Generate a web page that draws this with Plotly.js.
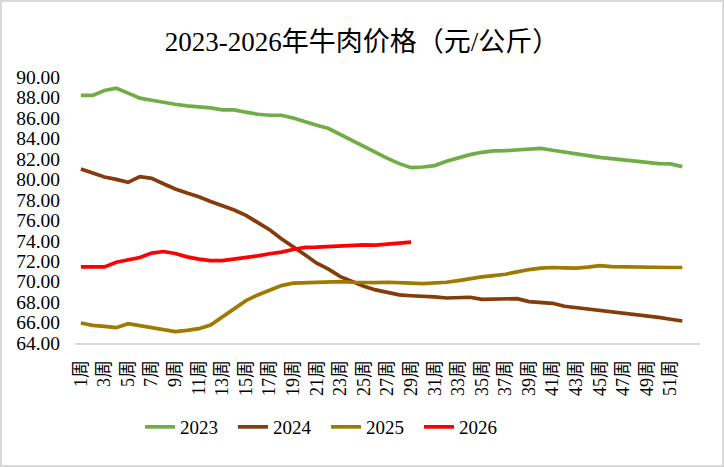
<!DOCTYPE html>
<html>
<head>
<meta charset="utf-8">
<script src="https://cdn.plot.ly/plotly-3.0.1.min.js"></script>
<style>
  body { margin: 0; background: #fff; }
  #wrap { position: relative; width: 724px; height: 467px; }
  #chart { width: 724px; height: 467px; }
  #frame { position: absolute; left: 0; top: 0; width: 724px; height: 467px; box-sizing: border-box;
           border: 2px solid #d9d9d9; pointer-events: none; }
</style>
</head>
<body>
<div id="wrap"><div id="chart"></div><div id="frame"></div></div>
<script>
// weekly beef price, yuan/kg
const weeks = Array.from({ length: 52 }, (_, i) => i + 1);
const tickWeeks = [1,3,5,7,9,11,13,15,17,19,21,23,25,27,29,31,33,35,37,39,41,43,45,47,49,51];

const y2023 = [88.2, 88.2, 88.68, 88.9, 88.42, 87.93, 87.73, 87.5, 87.34, 87.18,
  87.08, 86.98, 86.79, 86.79, 86.56, 86.36, 86.26, 86.26, 86.0, 85.61,
  85.28, 84.96, 84.37, 83.75, 83.23, 82.58, 82.05, 81.53, 81.14, 81.2,
  81.34, 81.76, 82.12, 82.41, 82.64, 82.77, 82.8, 82.87, 82.97, 83.03,
  82.84, 82.64, 82.48, 82.32, 82.15, 82.02, 81.89, 81.76, 81.6, 81.53,
  81.5, 81.24];
const y2024 = [81.01, 80.58, 80.23, 79.99, 79.7, 80.26, 80.09, 79.57, 79.05, 78.66,
  78.3, 77.84, 77.42, 77.0, 76.47, 75.75, 75.07, 74.19, 73.43, 72.62,
  71.8, 71.22, 70.49, 70.0, 69.55, 69.19, 68.9, 68.7, 68.62, 68.6,
  68.5, 68.4, 68.43, 68.47, 68.27, 68.3, 68.34, 68.34, 68.05, 67.98,
  67.88, 67.59, 67.46, 67.3, 67.16, 67.0, 66.94, 66.81, 66.64, 66.51,
  66.32, 66.15];
const y2025 = [65.96, 65.73, 65.63, 65.5, 65.89, 65.7, 65.54, 65.27, 65.11, 65.24,
  65.4, 65.76, 66.58, 67.4, 68.14, 68.7, 69.19, 69.61, 69.85, 69.91,
  69.97, 69.97, 70.0, 69.94, 69.91, 69.91, 69.94, 69.94, 69.85, 69.81,
  69.85, 69.94, 70.1, 70.3, 70.46, 70.59, 70.72, 70.95, 71.18, 71.31,
  71.38, 71.35, 71.31, 71.41, 71.57, 71.47, 71.44, 71.38, 71.38, 71.38,
  71.38, 71.38];
const y2026 = [71.44, 71.44, 71.44, 71.9, 72.13, 72.36, 72.79, 72.94, 72.75, 72.42,
  72.2, 72.06, 72.06, 72.2, 72.39, 72.52, 72.72, 72.88, 73.14, 73.34,
  73.37, 73.43, 73.5, 73.53, 73.6, 73.56, 73.63, 73.76, 73.86];

const seriesNames = ['2023', '2024', '2025', '2026'];
const seriesData = [y2023, y2024, y2025, y2026];
const seriesColors = ['#70AD47', '#843C0C', '#9E7A00', '#FF0000'];

const FONT = "'Liberation Serif', 'Times New Roman', 'Noto Sans CJK SC', serif";

const traces = seriesNames.map((name, i) => ({
  x: weeks.slice(0, seriesData[i].length),
  y: seriesData[i],
  type: 'scatter', mode: 'lines', name,
  line: { color: seriesColors[i], width: 3.7 },
  hovertemplate: '%{x}周: %{y:.2f}<extra>' + name + '</extra>',
}));

Plotly.newPlot('chart', traces, {
  width: 724, height: 467,
  paper_bgcolor: '#FFFFFF', plot_bgcolor: '#FFFFFF',
  font: { family: FONT, size: 18, color: '#000000' },
  margin: { l: 75, r: 24, t: 77, b: 124 },
  title: {
    text: '2023-2026年牛肉价格（元/公斤）',
    font: { family: FONT, size: 27, color: '#000000' },
    x: 0.5, xref: 'container', y: 1 - 42 / 467, yref: 'container', yanchor: 'middle',
  },
  xaxis: {
    range: [0.5, 53.5], tickmode: 'array', tickvals: tickWeeks,
    ticktext: tickWeeks.map(w => w + '周'),
    tickangle: -90, showgrid: false, zeroline: false,
    showline: true, linecolor: '#D9D9D9', linewidth: 1.5,
    ticks: '', ticklabelstandoff: 8, automargin: false,
    tickfont: { family: FONT, size: 18, color: '#000000' },
  },
  yaxis: {
    range: [64, 90], dtick: 2, tick0: 64, tickformat: '.2f',
    showgrid: false, zeroline: false, showline: false,
    ticks: '', ticklabelstandoff: 14, automargin: false,
    tickfont: { family: FONT, size: 19.5, color: '#000000' },
  },
  showlegend: true,
  legend: {
    orientation: 'h', x: (140 - 75) / 625, xanchor: 'left',
    y: (343 - 427) / 266, yanchor: 'middle',
    entrywidth: 48, entrywidthmode: 'pixels',
    font: { family: FONT, size: 19, color: '#000000' },
    bgcolor: 'rgba(0,0,0,0)', traceorder: 'normal',
  },
}, { displayModeBar: false, responsive: false });
</script>
</body>
</html>
